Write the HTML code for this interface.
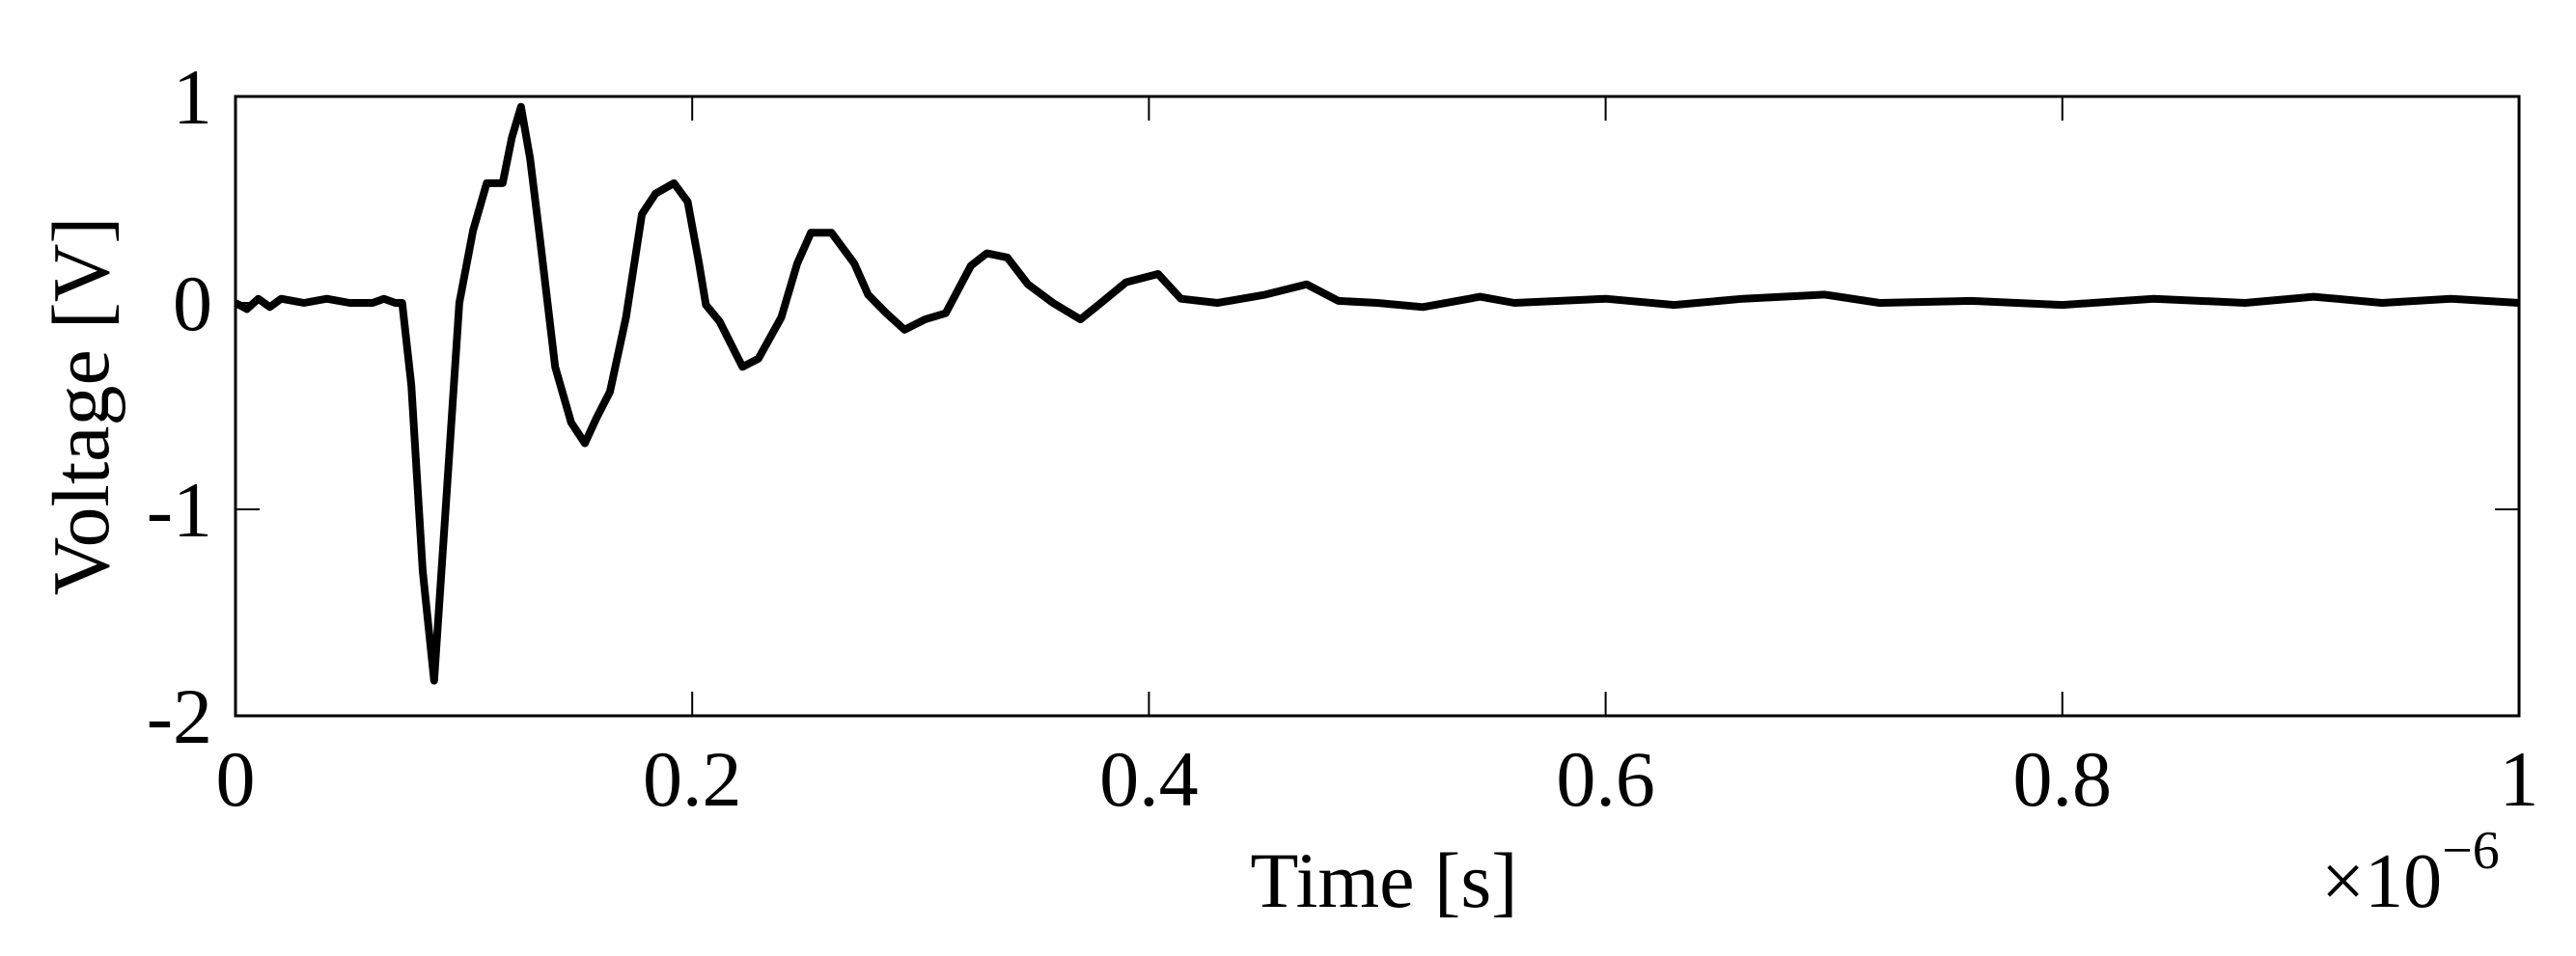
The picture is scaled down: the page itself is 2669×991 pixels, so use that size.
<!DOCTYPE html>
<html><head><meta charset="utf-8"><style>
html,body{margin:0;padding:0;background:#fff;}
svg{display:block;}
text{font-family:"Liberation Serif",serif;fill:#000;}
</style></head><body>
<svg id="chart" width="2669" height="991" viewBox="0 0 2669 991" xmlns="http://www.w3.org/2000/svg">
<rect x="0" y="0" width="2669" height="991" fill="#fff"/>
<g id="axes"></g>
<path id="trace" fill="none" stroke="#000" stroke-width="8" stroke-linejoin="round"/>
<text x="1434" y="940" font-size="82" text-anchor="middle">Time [s]</text>
<text x="2405" y="940" font-size="80">×10<tspan dy="-40" font-size="56">−6</tspan></text>
<text transform="translate(112,421) rotate(-90)" font-size="84" text-anchor="middle">Voltage [V]</text>
</svg>
<script>
const timesUs = [0,0.005,0.01,0.015,0.02,0.03,0.04,0.05,0.06,0.065,0.07,0.073,0.077,0.082,0.087,0.092,0.098,0.104,0.11,0.117,0.121,0.125,0.129,0.133,0.14,0.147,0.153,0.158,0.164,0.171,0.178,0.184,0.192,0.198,0.203,0.206,0.212,0.222,0.229,0.239,0.246,0.252,0.261,0.271,0.277,0.285,0.293,0.302,0.311,0.322,0.329,0.338,0.347,0.358,0.37,0.379,0.39,0.404,0.414,0.43,0.451,0.469,0.483,0.5,0.52,0.545,0.56,0.6,0.63,0.66,0.696,0.72,0.76,0.8,0.84,0.88,0.91,0.94,0.97,1.0];
const voltages = [0,-0.03,0.02,-0.02,0.02,0,0.02,0,0,0.02,0,0,-0.4,-1.3,-1.83,-1.0,0,0.35,0.58,0.58,0.8,0.95,0.7,0.34,-0.31,-0.58,-0.68,-0.56,-0.43,-0.07,0.43,0.53,0.58,0.49,0.19,-0.01,-0.09,-0.31,-0.27,-0.07,0.19,0.34,0.34,0.19,0.04,-0.05,-0.13,-0.08,-0.05,0.18,0.24,0.22,0.09,0,-0.08,0,0.1,0.14,0.02,0,0.04,0.09,0.01,0,-0.02,0.03,0,0.02,-0.01,0.02,0.04,0,0.01,-0.01,0.02,0,0.03,0,0.02,0];
const xTicks = [0,0.2,0.4,0.6,0.8,1];
const xTickLabels = ["0","0.2","0.4","0.6","0.8","1"];
const yTicks = [-2,-1,0,1];
const yTickLabels = ["-2","-1","0","1"];

const L=244,R=2610,T=100,B=742,xMin=0,xMax=1,yMin=-2,yMax=1;
function xs(v){return L+(v-xMin)/(xMax-xMin)*(R-L);}
function ys(v){return B-(v-yMin)/(yMax-yMin)*(B-T);}
const NS="http://www.w3.org/2000/svg";
const axes=document.getElementById('axes');
function mk(tag,attrs){const e=document.createElementNS(NS,tag);for(const k in attrs)e.setAttribute(k,attrs[k]);return e;}
const frame=mk('rect',{x:L,y:T,width:R-L,height:B-T,fill:'none',stroke:'#000','stroke-width':3});


axes.appendChild(frame);
xTicks.forEach((t,i)=>{
  const x=xs(t);
  const t1=mk('line',{x1:x,y1:B,x2:x,y2:B-25,stroke:'#000','stroke-width':2});
  
  
  axes.appendChild(t1);
  const t2=mk('line',{x1:x,y1:T,x2:x,y2:T+25,stroke:'#000','stroke-width':2});
  
  
  axes.appendChild(t2);
  const lb=mk('text',{x:x,y:835,'font-size':82,'text-anchor':'middle'});
  lb.textContent=xTickLabels[i];
  
  
  axes.appendChild(lb);
});
yTicks.forEach((t,i)=>{
  const y=ys(t);
  const t1=mk('line',{x1:L,y1:y,x2:L+25,y2:y,stroke:'#000','stroke-width':2});
  
  
  axes.appendChild(t1);
  const t2=mk('line',{x1:R,y1:y,x2:R-25,y2:y,stroke:'#000','stroke-width':2});
  
  
  axes.appendChild(t2);
  const lb=mk('text',{x:220,y:y+28,'font-size':82,'text-anchor':'end'});
  lb.textContent=yTickLabels[i];
  
  
  axes.appendChild(lb);
});
let d='';
timesUs.forEach((t,i)=>{d+=(i?'L':'M')+xs(t).toFixed(1)+','+ys(voltages[i]).toFixed(1);});
document.getElementById('trace').setAttribute('d',d);
</script>
</body></html>
